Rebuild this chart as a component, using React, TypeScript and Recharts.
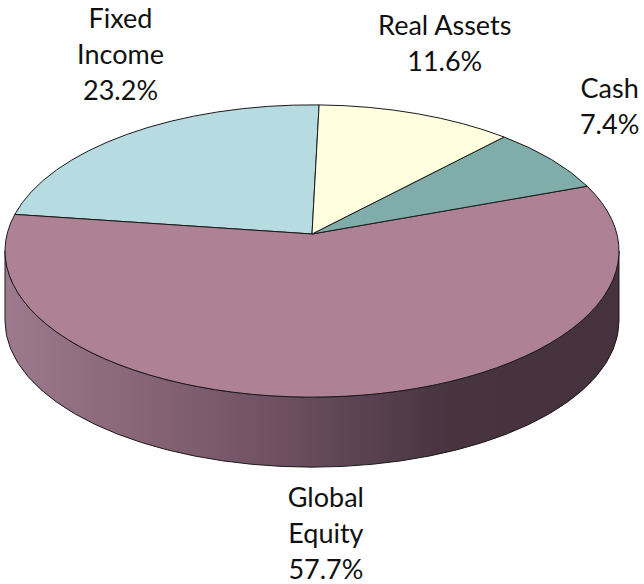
import { PieChart, Pie } from "recharts";

// slices, in drawing order (counter-clockwise from the top)
const categories = ["Fixed\nIncome", "Global\nEquity", "Cash", "Real Assets"];
const shares = [23.2, 57.7, 7.4, 11.6];
const colors = ["#b6dbe0", "#ae8195", "#80adaa", "#ffffe0"];

const W = 644;
const H = 584;
const RX = 307; // half width of the top face
const TILT = 0.476; // ry / rx
const LIFT = 17; // perspective: apex sits above the ellipse centre
const DEPTH = 70;
const FONT = "Lato, 'Open Sans', sans-serif";

const data = categories.map((name, i) => ({
  name,
  value: shares[i],
  color: colors[i],
}));

const rad = (d: number) => (d * Math.PI) / 180;

// where a ray from the apex at pie angle a meets the top ellipse
function edgePoint(cx: number, cy: number, r: number, a: number) {
  const ry = r * TILT;
  const ex = cx;
  const ey = cy + LIFT;
  const dx = Math.cos(rad(a));
  const dy = -TILT * Math.sin(rad(a));
  const px = (cx - ex) / r;
  const py = (cy - ey) / ry;
  const qx = dx / r;
  const qy = dy / ry;
  const A = qx * qx + qy * qy;
  const B = 2 * (px * qx + py * qy);
  const C = px * px + py * py - 1;
  const t = (-B + Math.sqrt(B * B - 4 * A * C)) / (2 * A);
  const x = cx + t * dx;
  const y = cy + t * dy;
  // parametric angle on the ellipse
  let phi = (Math.atan2(-(y - ey) / ry, (x - ex) / r) * 180) / Math.PI;
  return { x, y, phi };
}

const onEllipse = (ex: number, ey: number, r: number, phi: number) => ({
  x: ex + r * Math.cos(rad(phi)),
  y: ey - r * TILT * Math.sin(rad(phi)),
});

function Slice3D(props: any) {
  const { cx, cy, outerRadius, startAngle, endAngle, midAngle, payload, index } = props;
  const r = outerRadius;
  const ry = r * TILT;
  const ex = cx;
  const ey = cy + LIFT;
  const p1 = edgePoint(cx, cy, r, startAngle);
  const p2 = edgePoint(cx, cy, r, endAngle);
  let f1 = p1.phi;
  let f2 = p2.phi;
  while (f2 < f1) f2 += 360;
  const large = f2 - f1 > 180 ? 1 : 0;
  const top = `M${cx},${cy} L${p1.x},${p1.y} A${r},${ry} 0 ${large} 0 ${p2.x},${p2.y} Z`;

  // front wall: the part of the rim with parametric angle in [180, 360]
  const walls: string[] = [];
  for (let n = -1; n <= 1; n++) {
    const a = Math.max(f1, 180 + 360 * n);
    const b = Math.min(f2, 360 + 360 * n);
    if (b > a) {
      const ta = onEllipse(ex, ey, r, a);
      const tb = onEllipse(ex, ey, r, b);
      const ba = onEllipse(ex, ey + DEPTH, r, a);
      const bb = onEllipse(ex, ey + DEPTH, r, b);
      const lg = b - a > 180 ? 1 : 0;
      walls.push(
        `M${ta.x},${ta.y} A${r},${ry} 0 ${lg} 0 ${tb.x},${tb.y} L${bb.x},${bb.y} A${r},${ry} 0 ${lg} 1 ${ba.x},${ba.y} Z`
      );
    }
  }

  // label block
  const lines = String(payload.name).split("\n");
  lines.push(`${payload.value.toFixed(1)}%`);
  const nudge = [
    [0, -31],
    [-43, 0],
    [0, -33],
    [-15, 0],
  ][index];
  const lx = ex + 22 + 330 * Math.cos(rad(midAngle)) + nudge[0];
  const ly = cy + 45 - 255 * Math.sin(rad(midAngle)) + nudge[1];
  const first = ly - ((lines.length - 1) * 36) / 2 + 10;
  const gid = `wall-${index}`;

  return (
    <g>
      <defs>
        <linearGradient id={gid} gradientUnits="userSpaceOnUse" x1={ex - r} y1={0} x2={ex + r} y2={0}>
          <stop offset="0%" stopColor="#9e7a8e" />
          <stop offset="15%" stopColor="#8f6b7e" />
          <stop offset="45%" stopColor="#6e5061" />
          <stop offset="72%" stopColor="#47343f" />
          <stop offset="100%" stopColor="#45323d" />
        </linearGradient>
      </defs>
      {walls.map((d, i) => (
        <path key={i} d={d} fill={`url(#${gid})`} stroke="#1a1a1a" strokeWidth={1} />
      ))}
      <path d={top} fill={payload.color} stroke="#1a1a1a" strokeWidth={1} strokeLinejoin="round" />
      <text x={lx} textAnchor="middle" fontFamily={FONT} fontSize={27} fill="#111">
        {lines.map((s, i) => (
          <tspan key={i} x={lx} y={first + i * 36}>
            {s}
          </tspan>
        ))}
      </text>
    </g>
  );
}

export default function App() {
  return (
    <div style={{ width: W, height: H, background: "#fff" }}>
      <style>{`body{margin:0}`}</style>
      <PieChart width={W} height={H} margin={{ top: 0, right: 0, bottom: 0, left: 0 }}>
        <Pie
          data={data}
          dataKey="value"
          nameKey="name"
          cx={312}
          cy={234}
          outerRadius={RX}
          startAngle={88.5}
          endAngle={448.5}
          fill="transparent"
          stroke="none"
          labelLine={false}
          label={Slice3D}
          isAnimationActive={false}
        />
      </PieChart>
    </div>
  );
}
